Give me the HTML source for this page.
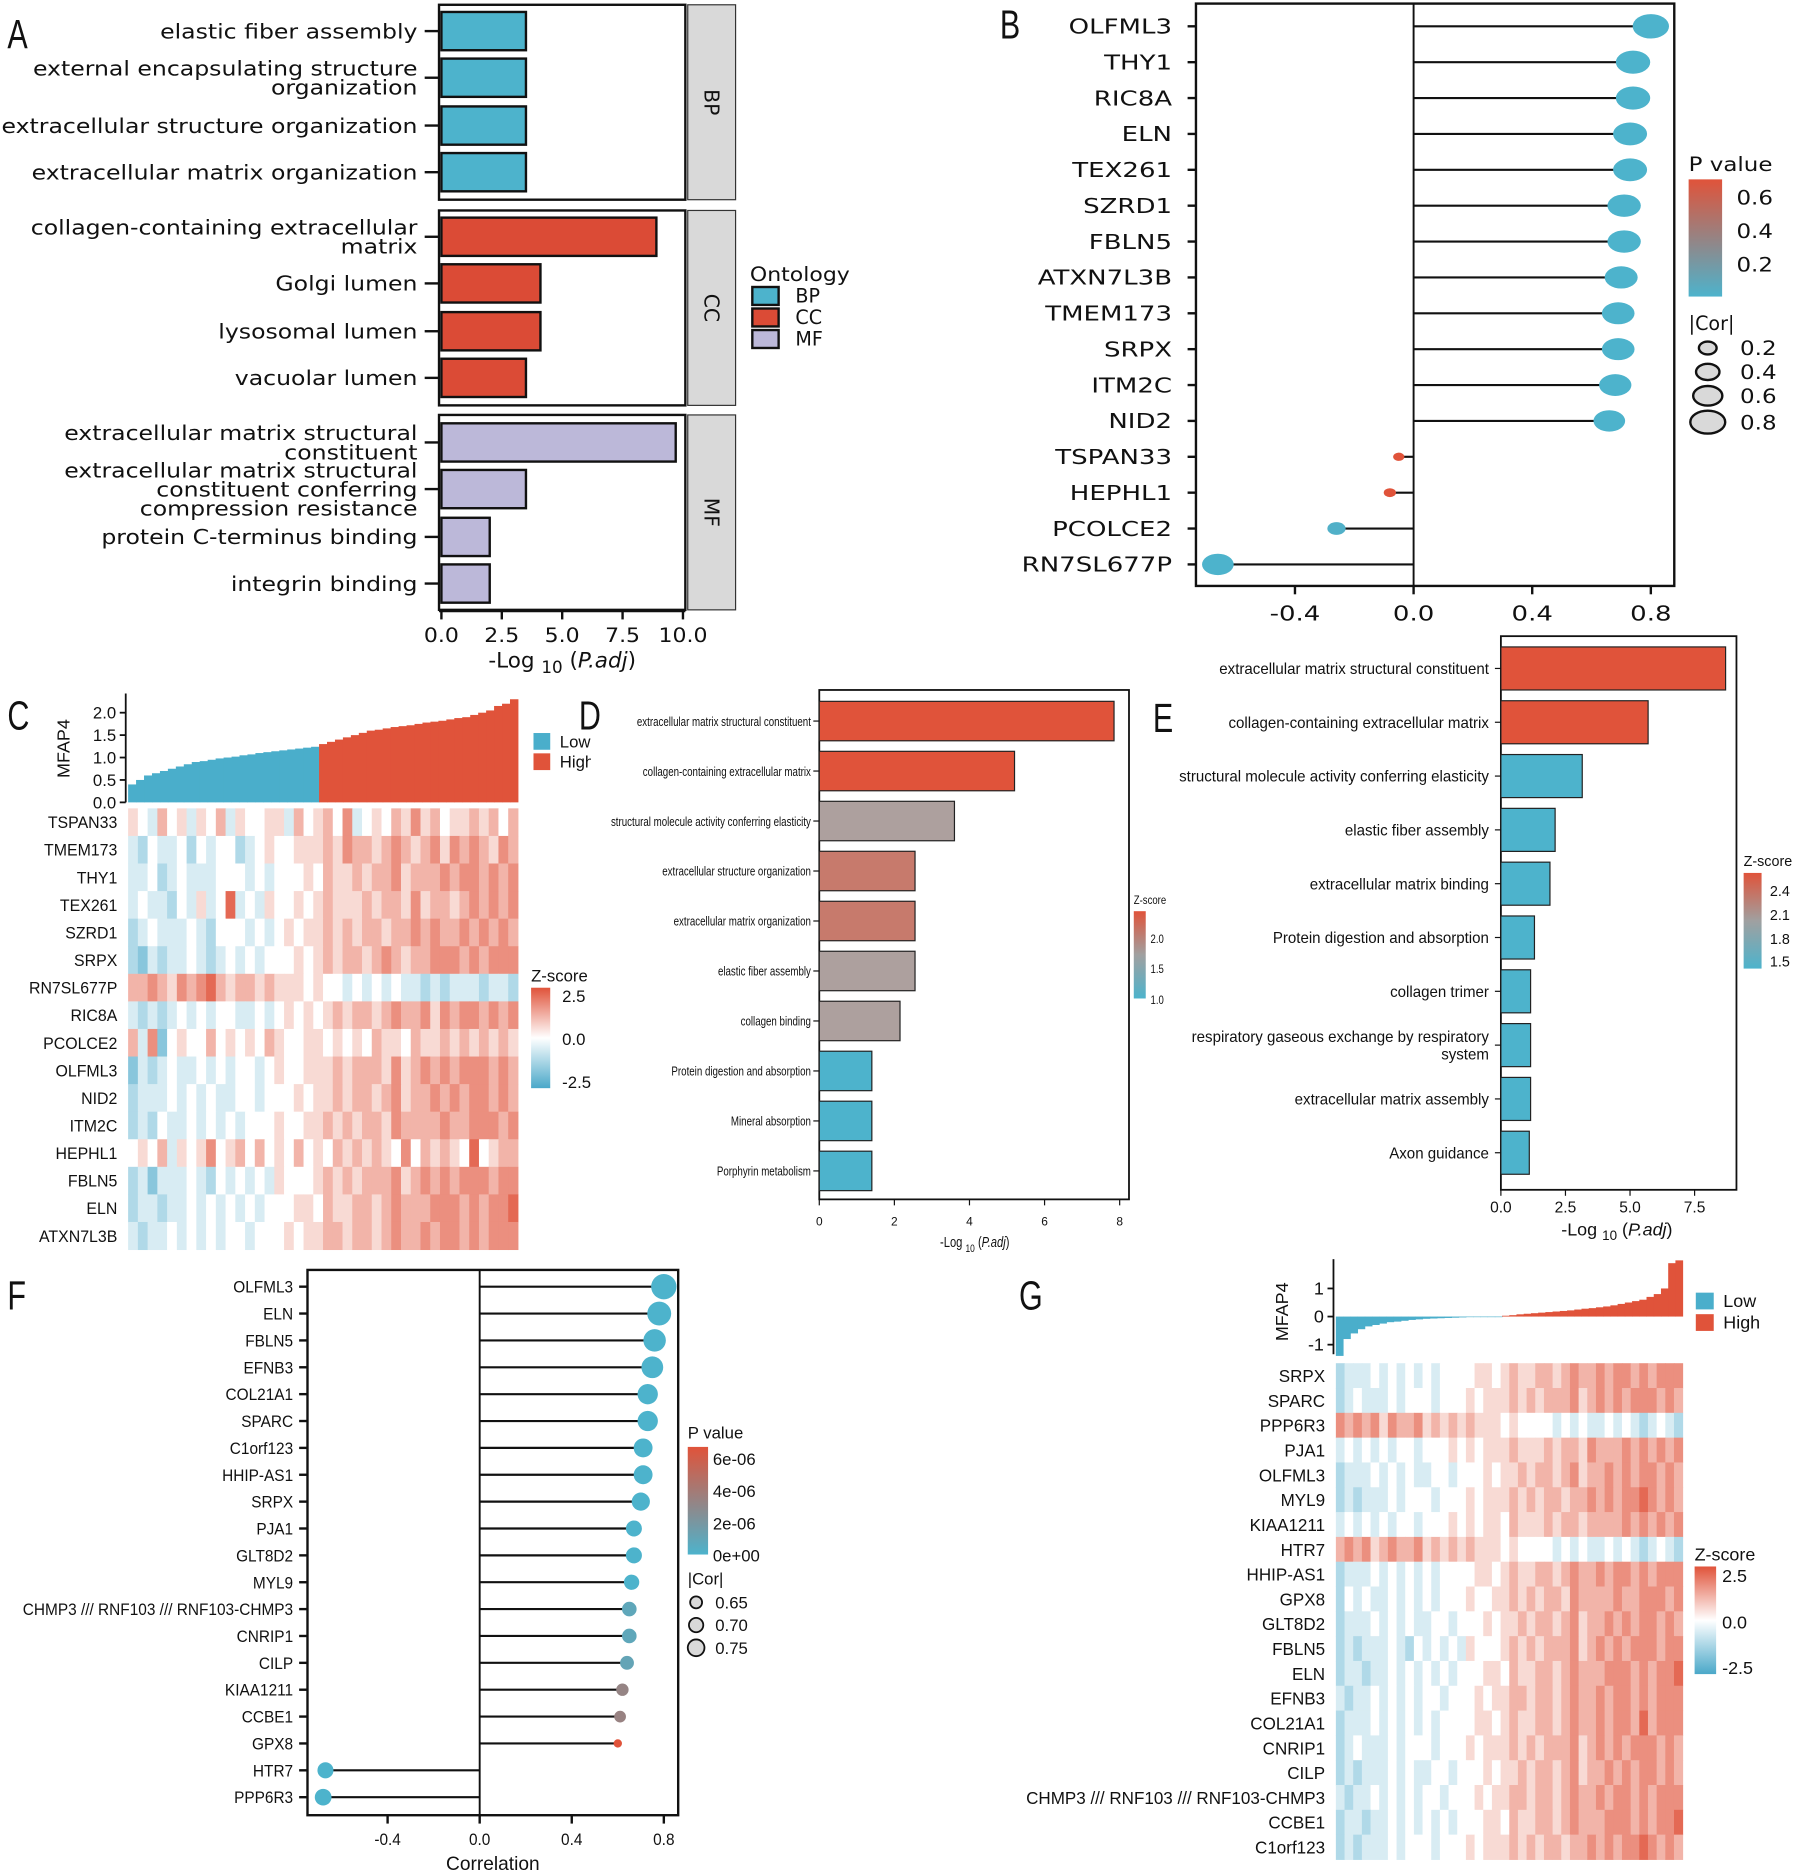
<!DOCTYPE html>
<html><head><meta charset="utf-8">
<style>
html,body{margin:0;padding:0;background:#fff;}
svg{display:block;}
text{font-family:"Liberation Sans",sans-serif;fill:#111;}
.w{font-family:"DejaVu Sans","Liberation Sans",sans-serif;}
</style></head>
<body>
<svg id="fig" xmlns="http://www.w3.org/2000/svg" width="1800" height="1875" viewBox="0 0 1505 1568"></svg>
<script>
// ---------- DATA ----------
// Panel A
const aTerms=["elastic fiber assembly","external encapsulating structure|organization","extracellular structure organization","extracellular matrix organization","collagen-containing extracellular|matrix","Golgi lumen","lysosomal lumen","vacuolar lumen","extracellular matrix structural|constituent","extracellular matrix structural|constituent conferring|compression resistance","protein C-terminus binding","integrin binding"];
const aVals=[3.5,3.5,3.5,3.5,8.9,4.1,4.1,3.5,9.7,3.5,2.0,2.0];
const aOnt=["BP","BP","BP","BP","CC","CC","CC","CC","MF","MF","MF","MF"];
const aTicks=[0,2.5,5,7.5,10];
// Panel B
const bGenes=["OLFML3","THY1","RIC8A","ELN","TEX261","SZRD1","FBLN5","ATXN7L3B","TMEM173","SRPX","ITM2C","NID2","TSPAN33","HEPHL1","PCOLCE2","RN7SL677P"];
const bCor=[0.80,0.74,0.74,0.73,0.73,0.71,0.71,0.70,0.69,0.69,0.68,0.66,-0.05,-0.08,-0.26,-0.66];
const bP=[0,0,0,0,0,0,0,0,0,0,0,0,0.7,0.7,0.02,0];
const bTicks=[-0.4,0,0.4,0.8];
// Panel C
const cGenes=["TSPAN33","TMEM173","THY1","TEX261","SZRD1","SRPX","RN7SL677P","RIC8A","PCOLCE2","OLFML3","NID2","ITM2C","HEPHL1","FBLN5","ELN","ATXN7L3B"];
const cHeat=["5436453546354455364564734546575645565646","3243342434423454455565766567656757676576","3342343334443434445465565667566676776767","3433243534834354454565556566575665676767","2343334324443434545565656656676766767676","2132334323434344454565665676566777676777","6676576786566565554544343434332323332332","3232343434433434545456566567667576776767","6371454464545465445545454655465565656565","1323433434344345445556566657567676777676","2333434343344344454556566567566767677676","2324334343434445445565656657666676677767","4546354574564645464546565654746565484566","2313334324343435444565656667567676777677","2332334343434344455465566567666777676778","3233434343443444545566566567667677676777"];
const cMfap=[0.4,0.5,0.6,0.65,0.7,0.75,0.8,0.85,0.9,0.92,0.95,0.98,1.0,1.02,1.05,1.07,1.1,1.12,1.14,1.16,1.18,1.2,1.22,1.24,1.3,1.35,1.4,1.45,1.5,1.55,1.6,1.62,1.65,1.68,1.7,1.72,1.75,1.78,1.8,1.82,1.85,1.88,1.9,1.95,2.0,2.05,2.15,2.2,2.3];
const cGroupSplit=24;
const cTicks=[0,0.5,1,1.5,2];
// Panel D
const dTerms=["extracellular matrix structural constituent","collagen-containing extracellular matrix","structural molecule activity conferring elasticity","extracellular structure organization","extracellular matrix organization","elastic fiber assembly","collagen binding","Protein digestion and absorption","Mineral absorption","Porphyrin metabolism"];
const dVals=[7.85,5.2,3.6,2.55,2.55,2.55,2.15,1.4,1.4,1.4];
const dZ=[2.2,2.2,1.6,1.9,1.9,1.6,1.6,1.0,1.0,1.0];
const dTicks=[0,2,4,6,8];
// Panel E
const eTerms=["extracellular matrix structural constituent","collagen-containing extracellular matrix","structural molecule activity conferring elasticity","elastic fiber assembly","extracellular matrix binding","Protein digestion and absorption","collagen trimer","respiratory gaseous exchange by respiratory|system","extracellular matrix assembly","Axon guidance"];
const eVals=[8.7,5.7,3.15,2.1,1.9,1.3,1.15,1.15,1.15,1.1];
const eZ=[2.5,2.5,1.5,1.5,1.5,1.5,1.5,1.5,1.5,1.5];
const eTicks=[0,2.5,5,7.5];
// Panel F
const fGenes=["OLFML3","ELN","FBLN5","EFNB3","COL21A1","SPARC","C1orf123","HHIP-AS1","SRPX","PJA1","GLT8D2","MYL9","CHMP3 /// RNF103 /// RNF103-CHMP3","CNRIP1","CILP","KIAA1211","CCBE1","GPX8","HTR7","PPP6R3"];
const fCor=[0.80,0.78,0.76,0.75,0.73,0.73,0.71,0.71,0.70,0.67,0.67,0.66,0.65,0.65,0.64,0.62,0.61,0.60,-0.67,-0.68];
const fP=[0,0,0,0,0,0,0,0,0,0,0,0,0.8e-6,0.8e-6,1e-6,3.2e-6,3.3e-6,6.5e-6,0,0];
const fTicks=[-0.4,0,0.4,0.8];
// Panel G
const gGenes=["SRPX","SPARC","PPP6R3","PJA1","OLFML3","MYL9","KIAA1211","HTR7","HHIP-AS1","GPX8","GLT8D2","FBLN5","ELN","EFNB3","COL21A1","CNRIP1","CILP","CHMP3 /// RNF103 /// RNF103-CHMP3","CCBE1","C1orf123"];
const gHeat=["2333434343434444554565566567667677676777","2343334344434445455565656667567676777676","7676757667565656555454444343433434323432","3434343443444545455565556566576667676767","2333434343344344454556566567566767677676","2323334344434445455565656656676767787676","3434343443444545455465556566566667676767","6767567667565656555454444343433434323432","2333434343434444554565566567667677676777","2434334343434445445565656657666676677767","2333434343344344454556566567566767677676","2323334324343435444565656667567676777677","2332334343434344455465566567666777676778","3233434343443444545566566567667677676777","2333434343434444554565566567667677686777","2343334344434445455565656667567676777676","2323334343344344454556566567566767677676","3233434343443444545566566567667677676777","2332334343434344455465566567666777676778","2323334344434445455565656656676767787676"];
const gMfap=[-1.4,-0.8,-0.6,-0.45,-0.35,-0.3,-0.25,-0.2,-0.18,-0.15,-0.12,-0.1,-0.08,-0.07,-0.06,-0.05,-0.04,-0.03,-0.02,-0.01,-0.005,-0.003,-0.002,0.03,0.05,0.08,0.1,0.12,0.14,0.16,0.18,0.2,0.22,0.25,0.28,0.3,0.33,0.36,0.4,0.45,0.5,0.55,0.6,0.7,0.8,1.0,1.9,2.0];
const gGroupSplit=23;
const gTicks=[-1,0,1];

// ---------- HELPERS ----------
const NS="http://www.w3.org/2000/svg";
const svg=document.getElementById('fig');
function el(tag,attrs,parent,txt){const e=document.createElementNS(NS,tag);for(const k in attrs)e.setAttribute(k,attrs[k]);if(txt!==undefined)e.textContent=txt;(parent||svg).appendChild(e);return e;}
function grp(name){const g=el('g',{});


return g;}
function lerp(a,b,t){return a+(b-a)*t;}
function mix(c1,c2,t){const p=c=>[parseInt(c.substr(1,2),16),parseInt(c.substr(3,2),16),parseInt(c.substr(5,2),16)];const a=p(c1),b=p(c2);return 'rgb('+a.map((v,i)=>Math.round(lerp(v,b[i],t))).join(',')+')';}
const BLUE="#4db3cc",RED="#e0533a",GREY="#d9d9d9";
function heatColor(d){const v=(d-4)/4.6;if(v<0)return mix('#ffffff','#4aa8c9',Math.min(1,-v));return mix('#ffffff','#e0533a',Math.min(1,v));}
function pColor(t){return mix(BLUE,RED,Math.max(0,Math.min(1,t)));}
function squeeze(t,f){if(!f)return;try{const L=t.getComputedTextLength();t.setAttribute('textLength',L*f);t.setAttribute('lengthAdjust','spacingAndGlyphs');}catch(e){}}
function multiText(parent,lines,x,yc,size,lh,cls,name,sq){const n=lines.length;lines.forEach((ln,i)=>{const t=el('text',{x:x,y:yc+(i-(n-1)/2)*lh+size*0.36,'font-size':size,'text-anchor':'end'},parent,ln);if(cls)t.setAttribute('class',cls);


squeeze(t,sq);});}
function gradDef(id,stops){const defs=el('defs',{});const lg=el('linearGradient',{id:id,x1:0,y1:1,x2:0,y2:0},defs);stops.forEach(s=>el('stop',{offset:s[0],'stop-color':s[1]},lg));}
function panelLetter(ch,x,y){const t=el('text',{x:x,y:y,'font-size':34},svg,ch);


squeeze(t,0.75);}

// ---------- PANEL A ----------
(function(){
const g=grp('panel-a-go-barplot');
const x0=369,sc=20.2;const xs=v=>x0+v*sc;
const facets=[["BP",4,167],["CC",176,339],["MF",347,510]];
const centers=[26,65,105,144,198,237,277,316,370,409,449,488];
const col={BP:BLUE,CC:"#db4b36",MF:"#bcb8d9"};
facets.forEach(f=>{const r=el('rect',{x:367,y:f[1],width:206,height:f[2]-f[1],fill:'#fff',stroke:'#111','stroke-width':2},g);


const s=el('rect',{x:575,y:f[1],width:40,height:f[2]-f[1],fill:GREY,stroke:'#333','stroke-width':1},g);


const t=el('text',{x:0,y:0,'font-size':17,'text-anchor':'middle',transform:`translate(589,${(f[1]+f[2])/2}) rotate(90)`,class:'w'},g,f[0]);

});
aVals.forEach((v,i)=>{const b=el('rect',{x:xs(0),y:centers[i]-16,width:xs(v)-xs(0),height:32,fill:col[aOnt[i]],stroke:'#111','stroke-width':2},g);


el('line',{x1:355,x2:367,y1:centers[i],y2:centers[i],stroke:'#111','stroke-width':2},g);
multiText(g,aTerms[i].split('|'),349,centers[i],17,16,'w','term-label',1.16);});
el('line',{x1:367,x2:573,y1:511,y2:511,stroke:'#111','stroke-width':2},g);
aTicks.forEach(t=>{el('line',{x1:xs(t),x2:xs(t),y1:511,y2:518,stroke:'#111','stroke-width':2},g);
const tt=el('text',{x:xs(t),y:537,'font-size':16,'text-anchor':'middle',class:'w'},g,t.toFixed(1));


squeeze(tt,1.15);});
const ti=el('text',{x:470,y:558,'font-size':18,'text-anchor':'middle',class:'w'},g);
ti.innerHTML='-Log <tspan font-size="14" dy="5">10</tspan><tspan dy="-5"> (</tspan><tspan font-style="italic">P.adj</tspan>)';


const lt=el('text',{x:627,y:235,'font-size':16,class:'w'},g,'Ontology');


squeeze(lt,1.15);
["BP","CC","MF"].forEach((k,i)=>{const r=el('rect',{x:629,y:240+i*18,width:22,height:15,fill:col[k],stroke:'#111','stroke-width':2},g);


const t=el('text',{x:665,y:253+i*18,'font-size':16,class:'w'},g,k);

});
})();
panelLetter('A',6,40);

// ---------- LOLLIPOP helper ----------
function lollipop(name,genes,cors,pcols,radii,box,zeroX,scale,y0,step,fs,ticks,tickY,cls,labelX,sq){
const g=grp(name);const xs=v=>zeroX+v*scale;
const r=el('rect',{x:box[0],y:box[1],width:box[2]-box[0],height:box[3]-box[1],fill:'none',stroke:'#111','stroke-width':2},g);


el('line',{x1:zeroX,x2:zeroX,y1:box[1],y2:box[3],stroke:'#111','stroke-width':1.6},g);
genes.forEach((gn,i)=>{const y=y0+i*step;
el('line',{x1:box[0]-7,x2:box[0],y1:y,y2:y,stroke:'#111','stroke-width':2},g);
const ln=el('line',{x1:xs(0),x2:xs(cors[i]),y1:y,y2:y,stroke:'#111','stroke-width':1.8},g);


const c=el('ellipse',{cx:xs(cors[i]),cy:y,rx:radii[i][0],ry:radii[i][1],fill:pcols[i]},g);


const t=el('text',{x:labelX,y:y+fs*0.36,'font-size':fs,'text-anchor':'end'},g,gn);if(cls)t.setAttribute('class',cls);


squeeze(t,sq);});
ticks.forEach(t=>{el('line',{x1:xs(t),x2:xs(t),y1:box[3],y2:box[3]+7,stroke:'#111','stroke-width':2},g);
const tt=el('text',{x:xs(t),y:tickY,'font-size':fs,'text-anchor':'middle'},g,t.toFixed(1));if(cls)tt.setAttribute('class',cls);


squeeze(tt,sq);});
return g;}

// ---------- PANEL B ----------
(function(){
const cols=bP.map(p=>pColor(p/0.7));
const radii=bCor.map((c,i)=>{const a=Math.abs(c);return [4+a*14,3+a*9];});
const g=lollipop('panel-b-lollipop',bGenes,bCor,cols,radii,[1000,3,1400,490],1182,248,22,30,17,bTicks,519,'w',980,1.28);
gradDef('gradB',[[0,BLUE],[1,RED]]);
const t=el('text',{x:1412,y:143,'font-size':16,class:'w'},g,'P value');


squeeze(t,1.2);
const cb=el('rect',{x:1412,y:150,width:28,height:98,fill:'url(#gradB)'},g);


[["0.6",165],["0.4",193],["0.2",221]].forEach(a=>{const l=el('text',{x:1452,y:a[1]+6,'font-size':16,class:'w'},g,a[0]);


squeeze(l,1.2);});
const t2=el('text',{x:1412,y:276,'font-size':16,class:'w'},g,'|Cor|');


[[0.2,291],[0.4,311],[0.6,331],[0.8,353]].forEach(a=>{const c=el('ellipse',{cx:1428,cy:a[1],rx:5+a[0]*12,ry:4+a[0]*7,fill:'#d9d9d9',stroke:'#111','stroke-width':2},g);


const l=el('text',{x:1455,y:a[1]+6,'font-size':16,class:'w'},g,a[0].toFixed(1));


squeeze(l,1.2);});
})();
panelLetter('B',836,32);

// ---------- HEATMAP helper ----------
function heatPanel(name,genes,heat,mfap,split,ticks,hx0,hx1,hy0,rowH,fs,barTop,barZeroY,barScale,axisX,labelX,sq){
const g=grp(name);const nc=heat[0].length;const cw=(hx1-hx0)/nc;
heat.forEach((row,ri)=>{for(let j=0;j<nc;j++){const c=el('rect',{x:hx0+j*cw,y:hy0+ri*rowH,width:cw+0.4,height:rowH+0.4,fill:heatColor(+row[j])},g);

}
const t=el('text',{x:labelX,y:hy0+ri*rowH+rowH/2+fs*0.36,'font-size':fs,'text-anchor':'end'},g,genes[ri]);


squeeze(t,sq);});
const bw=(hx1-hx0)/mfap.length;const ys=v=>barZeroY-v*barScale;
mfap.forEach((v,i)=>{const base=ys(0);
const top=Math.min(ys(v),base),h=Math.abs(ys(v)-base);
const b=el('rect',{x:hx0+i*bw,y:top,width:bw+0.4,height:Math.max(h,0.5),fill:i<split?"#4aaecb":"#e0533a"},g);

});
el('line',{x1:axisX,x2:axisX,y1:barTop,y2:ticks[0]>=0?ys(0):ys(ticks[0])+8,stroke:'#111','stroke-width':1.5},g);
ticks.forEach(t=>{el('line',{x1:axisX-5,x2:axisX,y1:ys(t),y2:ys(t),stroke:'#111','stroke-width':1.5},g);
const l=el('text',{x:axisX-8,y:ys(t)+5,'font-size':fs,'text-anchor':'end'},g,ticks[0]>=0?t.toFixed(1):String(t));

});
return {g,ys};}

// ---------- PANEL C ----------
(function(){
const {g}=heatPanel('panel-c-heatmap',cGenes,cHeat,cMfap,cGroupSplit,cTicks,107,433,676,23.06,14,580,671,37.5,105,98,0.95);
const t=el('text',{x:0,y:0,'font-size':15,'text-anchor':'middle',transform:'translate(58,626) rotate(-90)'},g,'MFAP4');


[["Low","#4aaecb",620],["High","#e0533a",637]].forEach(a=>{const r=el('rect',{x:446,y:a[2]-7,width:14,height:14,fill:a[1]},g);


const l=el('text',{x:468,y:a[2]+5,'font-size':14},g,a[0]);

});
el('rect',{x:494,y:600,width:20,height:50,fill:'#fff'},g);
gradDef('gradZ',[[0,'#4aa8c9'],[0.5,'#ffffff'],[1,'#e0533a']]);
const zt=el('text',{x:444,y:821,'font-size':14},g,'Z-score');


const cb=el('rect',{x:444,y:826,width:16,height:84,fill:'url(#gradZ)'},g);


[["2.5",833],["0.0",869],["-2.5",905]].forEach(a=>{const l=el('text',{x:470,y:a[1]+5,'font-size':14},g,a[0]);

});
el('rect',{x:494,y:890,width:20,height:30,fill:'#fff'},g);
})();
panelLetter('C',6,610);

// ---------- BAR helper (D, E) ----------
function barPanel(name,terms,vals,zs,zmin,zmax,box,x0,sc,y0,step,bh,fs,ticks,tickY,tickFs,labelX,tickFmt,sq){
const g=grp(name);const xs=v=>x0+v*sc;
const r=el('rect',{x:box[0],y:box[1],width:box[2]-box[0],height:box[3]-box[1],fill:'none',stroke:'#111','stroke-width':1.5},g);


terms.forEach((tm,i)=>{const y=y0+i*step;const t=(zs[i]-zmin)/(zmax-zmin);
const c=t>0.45?mix('#a8a8a8',RED,(t-0.45)/0.55):mix(BLUE,'#a0a0a0',t/0.45);
const b=el('rect',{x:xs(0),y:y-bh/2,width:xs(vals[i])-xs(0),height:bh,fill:c,stroke:'#222','stroke-width':1},g);


el('line',{x1:box[0]-5,x2:box[0],y1:y,y2:y,stroke:'#111','stroke-width':1},g);
multiText(g,tm.split('|'),labelX,y,fs,fs*1.15,null,'term-label',sq);});
ticks.forEach(t=>{el('line',{x1:xs(t),x2:xs(t),y1:box[3],y2:box[3]+5,stroke:'#111','stroke-width':1},g);
const tt=el('text',{x:xs(t),y:tickY,'font-size':tickFs,'text-anchor':'middle'},g,tickFmt(t));

});
return {g,xs};}
function axisTitle(g,x,y,fs,sq){const ti=el('text',{x:x,y:y,'font-size':fs,'text-anchor':'middle'},g);
ti.innerHTML='-Log <tspan font-size="'+(fs*0.75)+'" dy="4">10</tspan><tspan dy="-4"> (</tspan><tspan font-style="italic">P.adj</tspan>)';


squeeze(ti,sq);}
function zLegend(g,id,x,y,w,h,labels,titleY,fs,lx,sq){gradDef(id,[[0,BLUE],[0.5,'#a0a0a0'],[1,RED]]);
const zt=el('text',{x:x,y:titleY,'font-size':fs},g,'Z-score');


squeeze(zt,sq);
const cb=el('rect',{x:x,y:y,width:w,height:h,fill:'url(#'+id+')'},g);


labels.forEach(a=>{const l=el('text',{x:lx,y:a[1]+fs*0.36,'font-size':fs},g,a[0]);


squeeze(l,sq);});}

// ---------- PANEL D ----------
(function(){
const {g}=barPanel('panel-d-barplot',dTerms,dVals,dZ,1.0,2.2,[685,577,944,1003],685,31.4,603,41.8,33,11,dTicks,1025,10,678,t=>String(t),0.74);
axisTitle(g,815,1043,12,0.78);
zLegend(g,'gradD',948,762,10,73,[["2.0",785],["1.5",810],["1.0",836]],756,10,962,0.8);
el('rect',{x:976,y:740,width:14,height:20,fill:'#fff'},g);
})();
panelLetter('D',484,610);

// ---------- PANEL E ----------
(function(){
const {g}=barPanel('panel-e-barplot',eTerms,eVals,eZ,1.5,2.5,[1255,532,1452,995],1255,21.6,559,45,36,13,eTicks,1014,13,1245,t=>t.toFixed(1),0.97);
axisTitle(g,1352,1033,15);
zLegend(g,'gradE',1458,730,15,80,[["2.4",745],["2.1",765],["1.8",785],["1.5",804]],724,12,1480);
})();
panelLetter('E',964,612);

// ---------- PANEL F ----------
(function(){
const cols=fP.map(p=>pColor(p/6.5e-6));
const radii=fCor.map((c,i)=>{const a=Math.abs(c);let r=(a-0.58)*30+4;if(fP[i]>5e-6)r=3.5;return [r,r];});
const g=lollipop('panel-f-lollipop',fGenes,fCor,cols,radii,[257,1062,567,1518],401,192.5,1076,22.47,14,fTicks,1543,null,245,0.92);
const xt=el('text',{x:412,y:1564,'font-size':16,'text-anchor':'middle'},g,'Correlation');


gradDef('gradF',[[0,BLUE],[1,RED]]);
const t=el('text',{x:575,y:1203,'font-size':14},g,'P value');


const cb=el('rect',{x:575,y:1210,width:17,height:90,fill:'url(#gradF)'},g);


[["6e-06",1220],["4e-06",1247],["2e-06",1274],["0e+00",1301]].forEach(a=>{const l=el('text',{x:596,y:a[1]+5,'font-size':14},g,a[0]);

});
const t2=el('text',{x:575,y:1325,'font-size':14},g,'|Cor|');


[["0.65",1340,5],["0.70",1359,6],["0.75",1378,7]].forEach(a=>{const c=el('circle',{cx:582,cy:a[1],r:a[2],fill:'#d9d9d9',stroke:'#111','stroke-width':1.5},g);


const l=el('text',{x:598,y:a[1]+5,'font-size':14},g,a[0]);

});
})();
panelLetter('F',6,1095);

// ---------- PANEL G ----------
(function(){
const {g}=heatPanel('panel-g-heatmap',gGenes,gHeat,gMfap,gGroupSplit,gTicks,1117,1407,1140,20.75,15,1053,1101,23.5,1115,1108,0.95);
const t=el('text',{x:0,y:0,'font-size':15,'text-anchor':'middle',transform:'translate(1077,1097) rotate(-90)'},g,'MFAP4');


[["Low","#4aaecb",1088],["High","#e0533a",1106]].forEach(a=>{const r=el('rect',{x:1418,y:a[2]-7,width:15,height:14,fill:a[1]},g);


const l=el('text',{x:1441,y:a[2]+5,'font-size':15},g,a[0]);

});
const zt=el('text',{x:1417,y:1305,'font-size':15},g,'Z-score');


const cb=el('rect',{x:1417,y:1310,width:18,height:90,fill:'url(#gradZ)'},g);


[["2.5",1318],["0.0",1357],["-2.5",1395]].forEach(a=>{const l=el('text',{x:1440,y:a[1]+5,'font-size':15},g,a[0]);

});
})();
panelLetter('G',852,1095);
</script>
</body></html>
